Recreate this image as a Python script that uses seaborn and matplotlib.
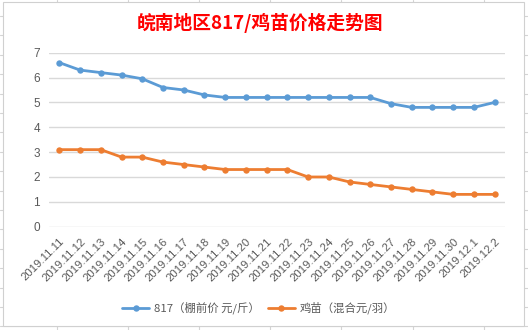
import matplotlib
matplotlib.use("Agg")
import matplotlib.pyplot as plt
from matplotlib.patches import Rectangle
from matplotlib.lines import Line2D
import seaborn as sns
import pandas as pd

dates = ["2019.11.11", "2019.11.12", "2019.11.13", "2019.11.14", "2019.11.15",
         "2019.11.16", "2019.11.17", "2019.11.18", "2019.11.19", "2019.11.20",
         "2019.11.21", "2019.11.22", "2019.11.23", "2019.11.24", "2019.11.25",
         "2019.11.26", "2019.11.27", "2019.11.28", "2019.11.29", "2019.11.30",
         "2019.12.1", "2019.12.2"]
price_817 = [6.6, 6.3, 6.2, 6.1, 5.95, 5.6, 5.5, 5.3, 5.2, 5.2, 5.2,
             5.2, 5.2, 5.2, 5.2, 5.2, 4.95, 4.8, 4.8, 4.8, 4.8, 5.0]
price_chick = [3.1, 3.1, 3.1, 2.8, 2.8, 2.6, 2.5, 2.4, 2.3, 2.3, 2.3,
               2.3, 2.0, 2.0, 1.8, 1.7, 1.6, 1.5, 1.4, 1.3, 1.3, 1.3]
series_names = ["817（棚前价 元/斤）", "鸡苗（混合元/羽）"]
colors = ["#5B9BD5", "#ED7D31"]
title = "皖南地区817/鸡苗价格走势图"
yticks = [0, 1, 2, 3, 4, 5, 6, 7]

sns.set_theme(style="white")
plt.rcParams["font.family"] = ["Noto Sans CJK SC", "DejaVu Sans"]

df = pd.DataFrame({
    "idx": list(range(len(dates))) * 2,
    "value": price_817 + price_chick,
    "series": [series_names[0]] * len(dates) + [series_names[1]] * len(dates),
})

W, H = 528, 330
fig = plt.figure(figsize=(W / 100, H / 100), dpi=100)
fig.patch.set_facecolor("white")

# Excel sheet grid behind the chart area
grid_c = "#D4D4D4"
for x in [57, 128, 199, 270, 341, 413, 484]:
    fig.add_artist(Line2D([x / W, x / W], [0, 1], color=grid_c, lw=0.8, zorder=0))
y = 16
while y < H:
    fig.add_artist(Line2D([0, 1], [1 - y / H, 1 - y / H], color=grid_c, lw=0.8, zorder=0))
    y += 19.4
# white chart area with border
fig.add_artist(Rectangle((3 / W, 1 - 326 / H), (524 - 3) / W, (326 - 2) / H,
                         facecolor="white", edgecolor="#D0D0D0", lw=0.8, zorder=1))

ax = fig.add_axes([49 / W, 1 - 226.7 / H, (505 - 49) / W, (226.7 - 52.7) / H])
ax.set_zorder(2)
ax.patch.set_alpha(0)

sns.lineplot(data=df, x="idx", y="value", hue="series", palette=colors,
             marker="o", markersize=4.6, markeredgewidth=0, linewidth=2.0,
             ax=ax, legend=False)

ax.set_xlim(-0.5, len(dates) - 0.5)
ax.set_ylim(0, 7)
ax.set_yticks(yticks)
ax.set_yticklabels([str(v) for v in yticks], fontsize=8.5, color="#595959",
                   family=["Liberation Sans", "DejaVu Sans"])
ax.set_xticks(range(len(dates)))
ax.set_xticklabels(dates, rotation=45, ha="right", rotation_mode="anchor",
                   fontsize=8.2, color="#595959",
                   family=["Liberation Sans", "DejaVu Sans"])
ax.tick_params(axis="x", length=0, pad=7)
ax.tick_params(axis="y", length=0, pad=6.5)
ax.grid(axis="y", color="#D9D9D9", lw=1.0)
ax.grid(axis="x", visible=False)
for s in ax.spines.values():
    s.set_visible(False)
ax.set_xlabel("")
ax.set_ylabel("")

fig.text(0.493, 1 - 23 / H, title, ha="center", va="center", color="#FF0000",
         fontsize=13.5, fontweight="bold", family=["Noto Sans CJK SC", "DejaVu Sans"])

handles = [Line2D([0], [0], color=c, lw=2.0, marker="o", markersize=4.6,
                  markeredgewidth=0) for c in colors]
fig.legend(handles, series_names, loc="center", bbox_to_anchor=(0.49, 1 - 308 / H),
           ncol=2, frameon=False, fontsize=8.2, handlelength=2.35, columnspacing=0.7,
           handletextpad=0.45, labelcolor="#595959")

fig.savefig("out.png", dpi=100, facecolor="white")
